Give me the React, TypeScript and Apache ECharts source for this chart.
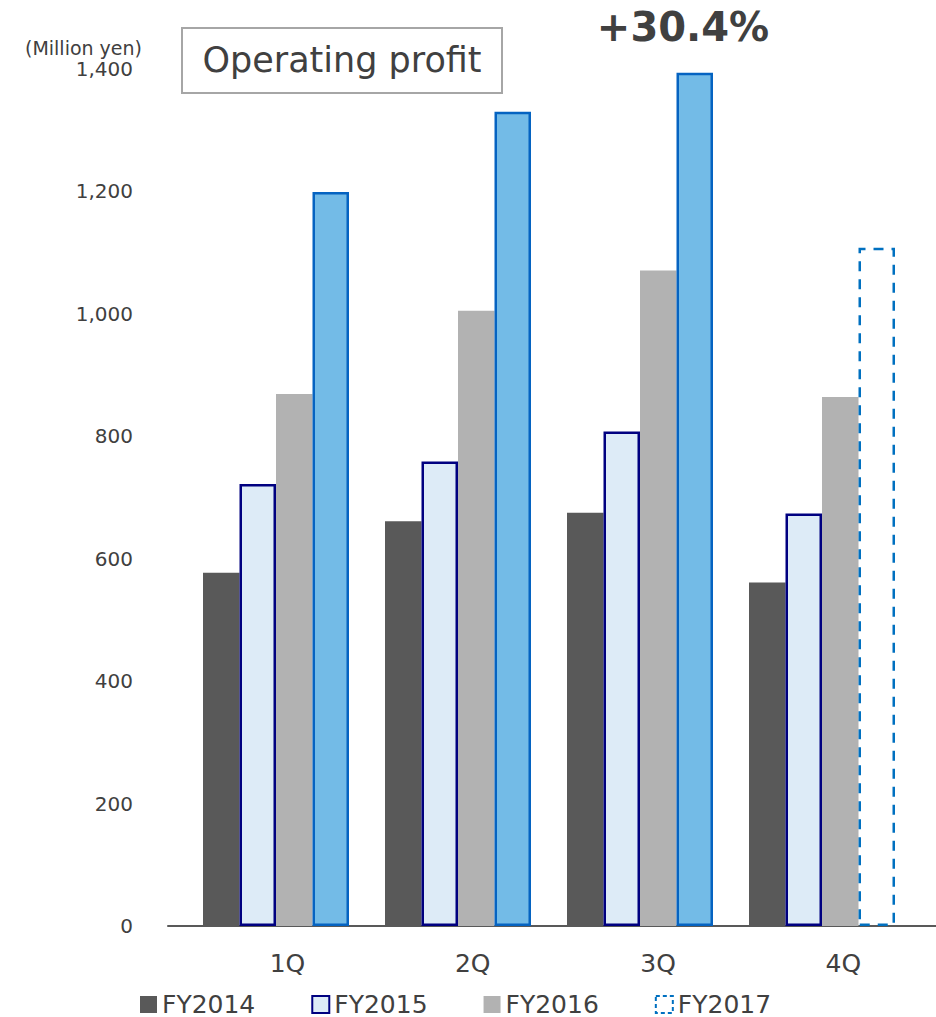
import React, { useEffect, useRef } from "react";
import * as echarts from "echarts";

const categories = ["1Q", "2Q", "3Q", "4Q"];
const seriesNames = ["FY2014", "FY2015", "FY2016", "FY2017"];
const fy2014 = [577, 661, 675, 561];
const fy2015 = [722, 759, 808, 674];
const fy2016 = [869, 1005, 1071, 864];
const fy2017 = [1199, 1330, 1394, 1108];
const fy2017ForecastIndex = 3;
const yMin = 0;
const yMax = 1400;
const yInterval = 200;
const titleText = "Operating profit";
const unitText = "(Million yen)";
const growthText = "+30.4%";

const FONT = "DejaVu Sans";
const TEXT = "#404040";

export default function App() {
  const ref = useRef<HTMLDivElement>(null);
  useEffect(() => {
    if (!ref.current) return;
    const chart = echarts.init(ref.current, undefined, { renderer: "svg" });
    const forecastStyle = {
      color: "rgba(255,255,255,0)",
      borderColor: "#0070C0",
      borderWidth: 2.5,
      borderType: [10, 8],
    };
    const option: any = {
      animation: false,
      backgroundColor: "#ffffff",
      textStyle: { fontFamily: FONT },
      grid: [
        { left: 185, width: 728, top: 69, bottom: 91 },
        { left: 168, width: 768, top: 69, bottom: 91 },
        { left: 194.8, width: 758.4, top: 69, bottom: 91 },
      ],
      xAxis: [
        {
          type: "category",
          gridIndex: 0,
          data: categories,
          axisLine: { show: false },
          axisTick: { show: false },
          axisLabel: { show: false },
        },
        {
          type: "category",
          gridIndex: 1,
          data: categories,
          axisLine: { show: true, lineStyle: { color: "#595959", width: 2 } },
          axisTick: { show: false },
          axisLabel: { show: false },
        },
        {
          type: "category",
          gridIndex: 2,
          data: categories,
          axisLine: { show: false },
          axisTick: { show: false },
          axisLabel: {
            show: true,
            margin: 25,
            color: TEXT,
            fontFamily: FONT,
            fontSize: 25,
          },
        },
      ],
      yAxis: [
        {
          type: "value",
          gridIndex: 0,
          min: yMin,
          max: yMax,
          interval: yInterval,
          axisLine: { show: false },
          axisTick: { show: false },
          splitLine: { show: false },
          axisLabel: {
            margin: 52,
            color: TEXT,
            fontFamily: FONT,
            fontSize: 20,
            formatter: (v: number) => v.toLocaleString("en-US"),
          },
        },
        { type: "value", gridIndex: 1, min: 0, max: 1, show: false },
        { type: "value", gridIndex: 2, min: 0, max: 1, show: false },
      ],
      legend: {
        left: 140,
        top: 992,
        padding: 0,
        icon: "rect",
        itemWidth: 17,
        itemHeight: 17,
        itemGap: 56,
        textStyle: {
          color: TEXT,
          fontFamily: FONT,
          fontSize: 25,
        },
        data: [
          { name: seriesNames[0] },
          { name: seriesNames[1] },
          { name: seriesNames[2] },
          {
            name: seriesNames[3],
            itemStyle: {
              color: "rgba(255,255,255,0)",
              borderColor: "#0070C0",
              borderWidth: 2,
              borderType: [4, 3],
            },
          },
        ],
      },
      series: [
        {
          name: seriesNames[0],
          type: "bar",
          xAxisIndex: 0,
          yAxisIndex: 0,
          barWidth: 36.5,
          barGap: "0%",
          itemStyle: { color: "#595959" },
          data: fy2014,
        },
        {
          name: seriesNames[1],
          type: "bar",
          xAxisIndex: 0,
          yAxisIndex: 0,
          barWidth: 36.5,
          barGap: "0%",
          itemStyle: { color: "#DDEBF7", borderColor: "#000080", borderWidth: 2.5 },
          data: fy2015,
        },
        {
          name: seriesNames[2],
          type: "bar",
          xAxisIndex: 0,
          yAxisIndex: 0,
          barWidth: 36.5,
          barGap: "0%",
          itemStyle: { color: "#B2B2B2" },
          data: fy2016,
        },
        {
          name: seriesNames[3],
          type: "bar",
          xAxisIndex: 0,
          yAxisIndex: 0,
          barWidth: 36.5,
          barGap: "0%",
          itemStyle: { color: "#73BBE7", borderColor: "#0563C1", borderWidth: 2.5 },
          data: fy2017.map((v, i) =>
            i === fy2017ForecastIndex ? { value: v, itemStyle: forecastStyle } : v
          ),
        },
      ],
      graphic: [
        {
          type: "rect",
          shape: { x: 182, y: 28, width: 320, height: 65 },
          style: { fill: "#ffffff", stroke: "#A6A6A6", lineWidth: 2 },
          z: 10,
        },
        {
          type: "text",
          x: 342,
          y: 60,
          z: 11,
          style: {
            text: titleText,
            fill: TEXT,
            font: `35px '${FONT}'`,
            textAlign: "center",
            textVerticalAlign: "middle",
          },
        },
        {
          type: "text",
          x: 142,
          y: 48,
          z: 11,
          style: {
            text: unitText,
            fill: TEXT,
            font: `19px '${FONT}'`,
            textAlign: "right",
            textVerticalAlign: "middle",
          },
        },
        {
          type: "text",
          x: 683,
          y: 27,
          z: 11,
          style: {
            text: growthText,
            fill: TEXT,
            font: `bold 40px '${FONT}'`,
            textAlign: "center",
            textVerticalAlign: "middle",
          },
        },
      ],
    };
    chart.setOption(option);
    return () => chart.dispose();
  }, []);
  return (
    <div
      ref={ref}
      style={{ position: "fixed", left: 0, top: 0, width: 936, height: 1017 }}
    />
  );
}
